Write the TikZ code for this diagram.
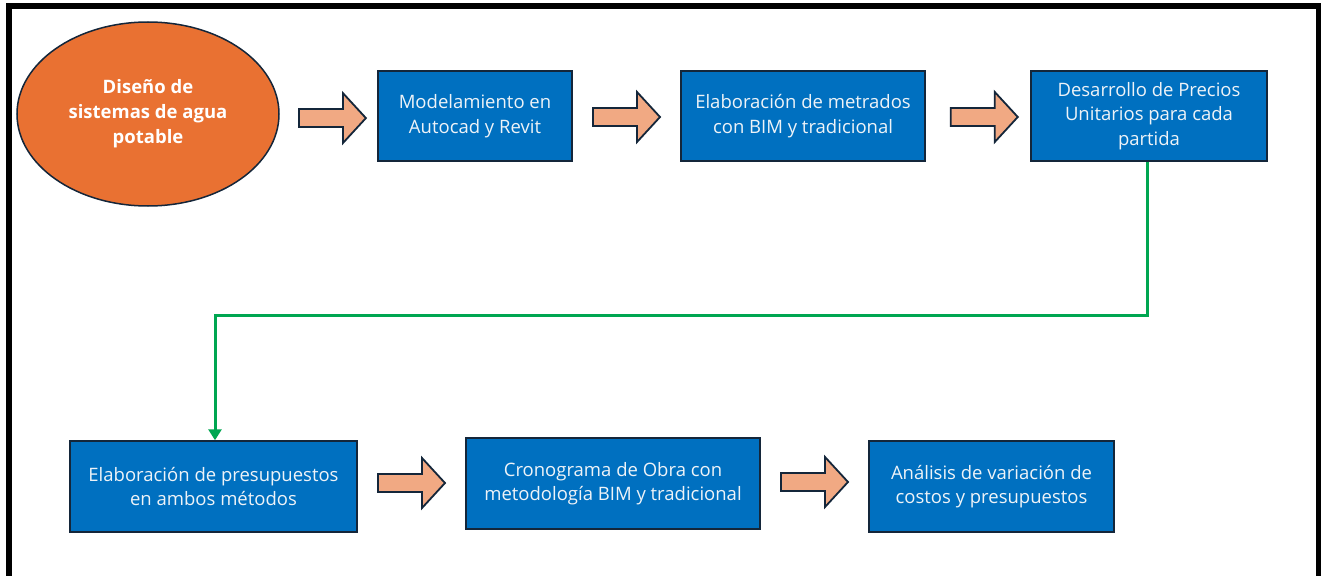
\documentclass[tikz,border=0pt]{standalone}
\usepackage{fontspec}
\setmainfont{Open Sans}
\usetikzlibrary{arrows.meta,calc,shapes.geometric}
\definecolor{boxblue}{HTML}{0070C0}
\definecolor{navy}{HTML}{14263A}
\definecolor{orangeE}{HTML}{E97132}
\definecolor{salmon}{HTML}{F1A983}
\definecolor{flowgreen}{HTML}{00A651}
\definecolor{paletext}{HTML}{EEF3F8}
\tikzset{
  procbox/.style={draw=navy, line width=1.5pt, fill=boxblue, text=paletext,
    inner sep=0pt, align=center, font=\fontsize{18.5}{24.5}\selectfont},
  startell/.style={ellipse, draw=navy, line width=1.5pt, fill=orangeE, text=white,
    inner sep=0pt, align=center, font=\fontsize{18.5}{25}\selectfont\bfseries},
  arrowsty/.style={draw=navy, line width=1.8pt, fill=salmon, line join=miter},
  conn/.style={draw=flowgreen, line width=3pt, -{Triangle[length=11pt,width=13pt]}},
  barrow/.pic={\draw[arrowsty] (-33.5,-9) -- (10.5,-9) -- (10.5,-25) -- (33.5,0) -- (10.5,25) -- (10.5,9) -- (-33.5,9) -- cycle;}
}
\begin{document}
\begin{tikzpicture}[x=1pt,y=-1pt]
\useasboundingbox (0,0) rectangle (1321,575);
\fill[white] (0,0) rectangle (1321,575);
% frame
\draw[line width=6pt, line join=miter] (9,580) -- (9,6) -- (1319,6) -- (1319,580);
% nodes
\node[startell, minimum width=262pt, minimum height=184pt] (s) at (148,114) {Diseño de\\sistemas de agua\\potable};
\node[procbox, minimum width=194pt, minimum height=90pt] (m1) at (475,116) {Modelamiento en\\Autocad y Revit};
\node[procbox, minimum width=244pt, minimum height=90pt] (m2) at (803,116) {Elaboración de metrados\\con BIM y tradicional};
\node[procbox, minimum width=236pt, minimum height=90pt] (m3) at (1149,116) {Desarrollo de Precios\\Unitarios para cada\\partida};
\node[procbox, minimum width=287pt, minimum height=91pt] (b1) at (213.5,486.5) {Elaboración de presupuestos\\en ambos métodos};
\node[procbox, minimum width=294pt, minimum height=91pt] (b2) at (613,483.5) {Cronograma de Obra con\\metodología BIM y tradicional};
\node[procbox, minimum width=245pt, minimum height=91pt] (b3) at (991.5,486.5) {Análisis de variación de\\costos y presupuestos};
% block arrows between nodes
\path ($(s.east)!0.54!(m1.west)$) ++(0,3) pic {barrow};
\path ($(m1.east)!0.5!(m2.west)$) ++(0,1) pic {barrow};
\path ($(m2.east)!0.56!(m3.west)$) ++(0,1) pic {barrow};
\path ($(b1.east)!0.5!(b2.west)$) ++(0,-2) pic {barrow};
\path ($(b2.east)!0.5!(b3.west)$) ++(0,-3) pic {barrow};
% green connector
\coordinate (turn) at ($(m3.south)+(-2,154)$);
\draw[conn] ([xshift=-2pt]m3.south) -- (turn) -| ([xshift=1.5pt]b1.north);
\end{tikzpicture}
\end{document}
